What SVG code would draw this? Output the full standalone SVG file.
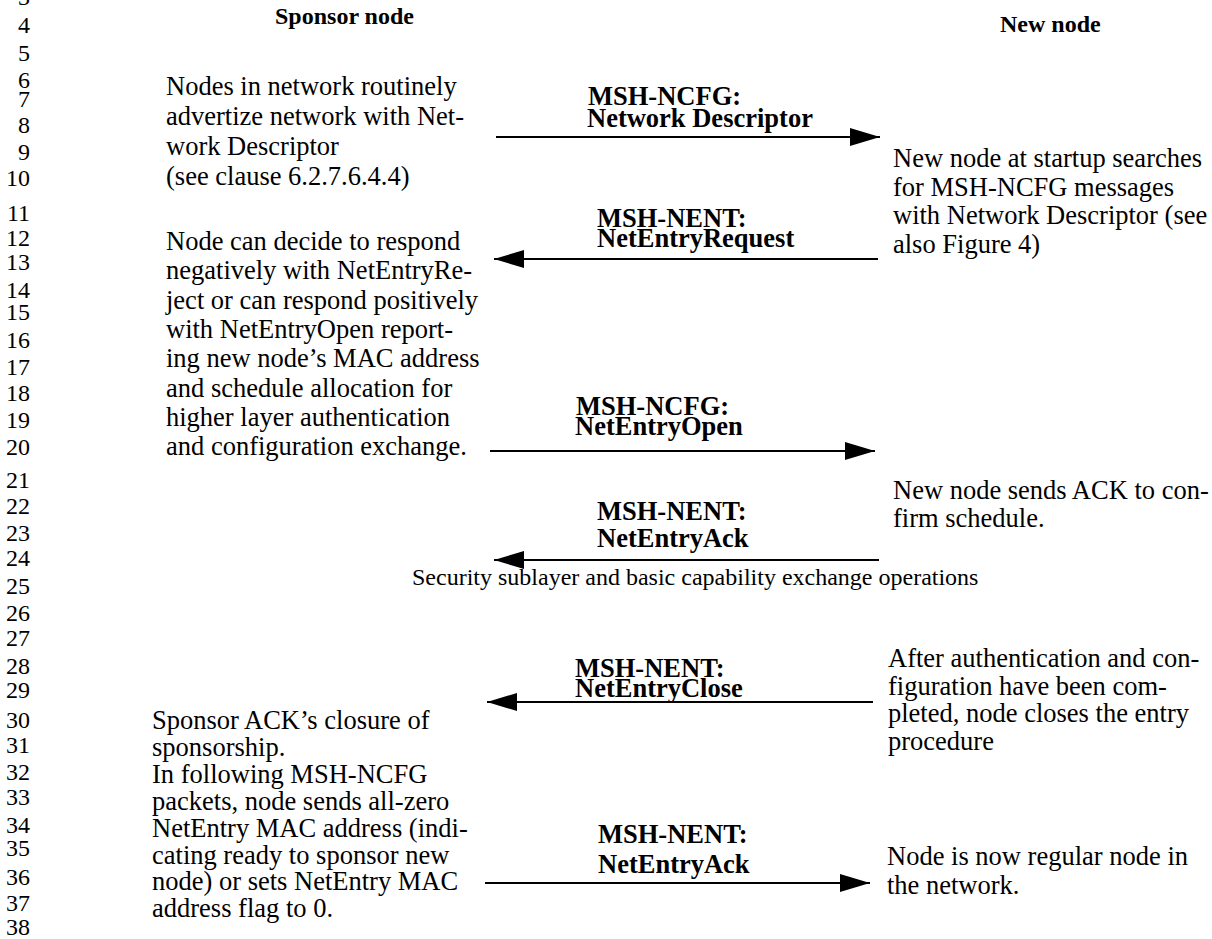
<svg xmlns="http://www.w3.org/2000/svg" width="1212" height="939" viewBox="0 0 1212 939">
<style>
text{font-family:"Liberation Serif","Times New Roman",serif;fill:#000}
.ln{font-size:24px;text-anchor:end}
.hd{font-size:24px;font-weight:bold}
.bd{font-size:26.5px}
.lb{font-size:26.5px;font-weight:bold}
.sm{font-size:24px}
.ar{stroke:#000;stroke-width:2.2;fill:none;marker-end:url(#ah)}
</style>
<defs>
<marker id="ah" markerUnits="userSpaceOnUse" markerWidth="30" markerHeight="18" refX="30" refY="9" orient="auto">
<path d="M0,0 L30,9 L0,18 z" fill="#000"/>
</marker>
</defs>
<rect width="1212" height="939" fill="#fff"/>
<g id="line-numbers">
<text class="ln" x="30" y="5">3</text>
<text class="ln" x="30" y="33">4</text>
<text class="ln" x="30" y="61">5</text>
<text class="ln" x="30" y="88">6</text>
<text class="ln" x="30" y="107">7</text>
<text class="ln" x="30" y="133">8</text>
<text class="ln" x="30" y="160">9</text>
<text class="ln" x="30" y="186">10</text>
<text class="ln" x="30" y="221">11</text>
<text class="ln" x="30" y="246">12</text>
<text class="ln" x="30" y="270">13</text>
<text class="ln" x="30" y="298">14</text>
<text class="ln" x="30" y="320">15</text>
<text class="ln" x="30" y="348">16</text>
<text class="ln" x="30" y="375">17</text>
<text class="ln" x="30" y="401">18</text>
<text class="ln" x="30" y="428">19</text>
<text class="ln" x="30" y="455">20</text>
<text class="ln" x="30" y="488">21</text>
<text class="ln" x="30" y="514">22</text>
<text class="ln" x="30" y="541">23</text>
<text class="ln" x="30" y="566">24</text>
<text class="ln" x="30" y="594">25</text>
<text class="ln" x="30" y="621">26</text>
<text class="ln" x="30" y="646">27</text>
<text class="ln" x="30" y="674">28</text>
<text class="ln" x="30" y="698">29</text>
<text class="ln" x="30" y="728">30</text>
<text class="ln" x="30" y="753">31</text>
<text class="ln" x="30" y="780">32</text>
<text class="ln" x="30" y="805">33</text>
<text class="ln" x="30" y="833">34</text>
<text class="ln" x="30" y="856">35</text>
<text class="ln" x="30" y="885">36</text>
<text class="ln" x="30" y="911">37</text>
<text class="ln" x="30" y="935">38</text>
</g>
<g id="sponsor-node">
<text class="hd" x="275" y="24">Sponsor node</text>
</g>
<g id="new-node">
<text class="hd" x="1000" y="32">New node</text>
</g>
<g id="sponsor-note-1">
<text class="bd" x="166" y="95">Nodes in network routinely</text>
<text class="bd" x="166" y="125">advertize network with Net-</text>
<text class="bd" x="166" y="155">work Descriptor</text>
<text class="bd" x="166" y="185">(see clause 6.2.7.6.4.4)</text>
</g>
<g id="sponsor-note-2">
<text class="bd" x="166" y="250">Node can decide to respond</text>
<text class="bd" x="166" y="279">negatively with NetEntryRe-</text>
<text class="bd" x="166" y="309">ject or can respond positively</text>
<text class="bd" x="166" y="338">with NetEntryOpen report-</text>
<text class="bd" x="166" y="367">ing new node’s MAC address</text>
<text class="bd" x="166" y="397">and schedule allocation for</text>
<text class="bd" x="166" y="426">higher layer authentication</text>
<text class="bd" x="166" y="455">and configuration exchange.</text>
</g>
<g id="sponsor-note-3">
<text class="bd" x="152" y="729">Sponsor ACK’s closure of</text>
<text class="bd" x="152" y="756">sponsorship.</text>
<text class="bd" x="152" y="783">In following MSH-NCFG</text>
<text class="bd" x="152" y="810">packets, node sends all-zero</text>
<text class="bd" x="152" y="837">NetEntry MAC address (indi-</text>
<text class="bd" x="152" y="864">cating ready to sponsor new</text>
<text class="bd" x="152" y="890">node) or sets NetEntry MAC</text>
<text class="bd" x="152" y="917">address flag to 0.</text>
</g>
<g id="new-node-note-1">
<text class="bd" x="893" y="167">New node at startup searches</text>
<text class="bd" x="893" y="196">for MSH-NCFG messages</text>
<text class="bd" x="893" y="224">with Network Descriptor (see</text>
<text class="bd" x="893" y="253">also Figure 4)</text>
</g>
<g id="new-node-note-2">
<text class="bd" x="893" y="499">New node sends ACK to con-</text>
<text class="bd" x="893" y="527">firm schedule.</text>
</g>
<g id="new-node-note-3">
<text class="bd" x="888" y="667">After authentication and con-</text>
<text class="bd" x="888" y="695">figuration have been com-</text>
<text class="bd" x="888" y="722">pleted, node closes the entry</text>
<text class="bd" x="888" y="750">procedure</text>
</g>
<g id="new-node-note-4">
<text class="bd" x="887" y="865">Node is now regular node in</text>
<text class="bd" x="887" y="894">the network.</text>
</g>
<g id="security-phase">
<text class="sm" x="412" y="585">Security sublayer and basic capability exchange operations</text>
</g>
<g id="connectors">
<g id="msg-ncfg-descriptor">
<line class="ar" x1="496" y1="137" x2="880" y2="137"/>
<text class="lb" x="588" y="105">MSH-NCFG:</text>
<text class="lb" x="587" y="127">Network Descriptor</text>
</g>
<g id="msg-nent-request">
<line class="ar" x1="878" y1="259" x2="494" y2="259"/>
<text class="lb" x="597" y="227">MSH-NENT:</text>
<text class="lb" x="597" y="247">NetEntryRequest</text>
</g>
<g id="msg-ncfg-open">
<line class="ar" x1="490" y1="451" x2="875" y2="451"/>
<text class="lb" x="576" y="415">MSH-NCFG:</text>
<text class="lb" x="575" y="435">NetEntryOpen</text>
</g>
<g id="msg-nent-ack-1">
<line class="ar" x1="879" y1="560" x2="494" y2="560"/>
<text class="lb" x="597" y="520">MSH-NENT:</text>
<text class="lb" x="597" y="547">NetEntryAck</text>
</g>
<g id="msg-nent-close">
<line class="ar" x1="873" y1="702" x2="487" y2="702"/>
<text class="lb" x="575" y="677">MSH-NENT:</text>
<text class="lb" x="575" y="697">NetEntryClose</text>
</g>
<g id="msg-nent-ack-2">
<line class="ar" x1="485" y1="883" x2="870" y2="883"/>
<text class="lb" x="598" y="843">MSH-NENT:</text>
<text class="lb" x="598" y="873">NetEntryAck</text>
</g>
</g>
</svg>
